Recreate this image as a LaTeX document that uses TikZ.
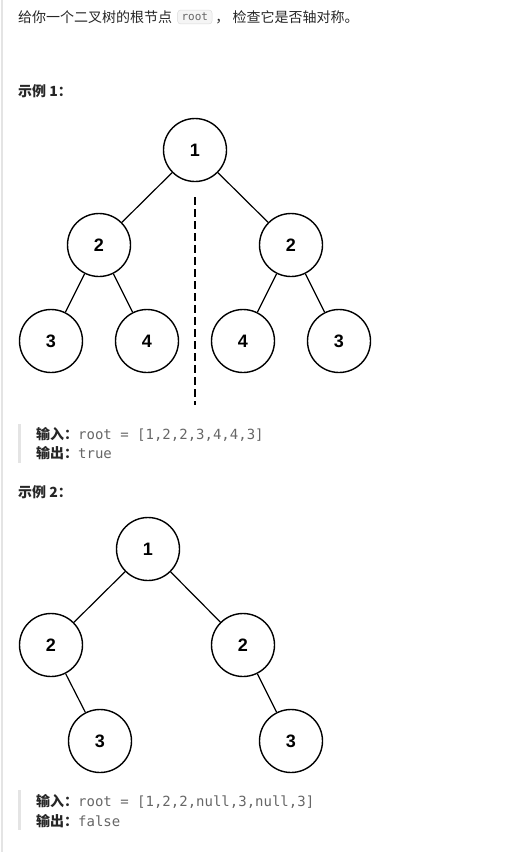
\documentclass[tikz,border=0pt]{standalone}
\usepackage{fontspec}
\setmainfont{Noto Sans CJK SC}
\newfontfamily\numfont{Liberation Sans}
\setmonofont{DejaVu Sans Mono}
\usetikzlibrary{positioning}
\definecolor{codegray}{HTML}{666666}
\definecolor{bargray}{HTML}{E4E4E4}
\definecolor{bodytext}{HTML}{262626}

\begin{document}
\begin{tikzpicture}[x=1pt,y=-1pt,line join=bevel,
  tn/.style={circle,draw,line width=1.4pt,minimum size=63pt,inner sep=0pt,
    font=\numfont\bfseries\fontsize{18}{18}\selectfont},
  edge/.style={line width=1.2pt},
  txt/.style={anchor=west,inner sep=0pt,text=bodytext,font=\fontsize{14}{16}\selectfont}]
\useasboundingbox (0,0) rectangle (517,852);
\fill[bargray] (1,0) rectangle (3,852);
%% text
\node (intro) at (18,17) [txt] {给你一个二叉树的根节点};
\node (rootcode) [right=5pt of intro,draw=gray!30,fill=gray!8,rounded corners=3pt,
  inner xsep=4pt,inner ysep=3pt,font=\ttfamily\fontsize{11}{12}\selectfont,text=codegray] {root};
\node (intro2) [right=3pt of rootcode,inner sep=0pt,text=bodytext,font=\fontsize{14}{16}\selectfont] {，\ 检查它是否轴对称。};
\node (ex_1) at (18,91) [txt,font=\bfseries\fontsize{14}{16}\selectfont] {示例 1：};
\fill[bargray] (18,424) rectangle (21,463);
\node (in_1) at (36,434) [txt] {\textbf{输入：}{\ttfamily\color{codegray}root = [1,2,2,3,4,4,3]}};
\node (out_1) at (36,453) [txt] {\textbf{输出：}{\ttfamily\color{codegray}true}};
\node (ex_2) at (18,492) [txt,font=\bfseries\fontsize{14}{16}\selectfont] {示例 2：};
\fill[bargray] (18,790) rectangle (21,830);
\node (in_2) at (36,801) [txt] {\textbf{输入：}{\ttfamily\color{codegray}root = [1,2,2,null,3,null,3]}};
\node (out_2) at (36,821) [txt] {\textbf{输出：}{\ttfamily\color{codegray}false}};
%% tree 1
\node (node_0) at (195,150) [tn] {1};
\node (node_1) at (99,245) [tn] {2};
\node (node_2) at (291,245) [tn] {2};
\node (node_3) at (51,341) [tn] {3};
\node (node_4) at (147,341) [tn] {4};
\node (node_5) at (243,341) [tn] {4};
\node (node_6) at (339,341) [tn] {3};
\draw [edge] (node_0) -- (node_1);
\draw [edge] (node_0) -- (node_2);
\draw [edge] (node_1) -- (node_3);
\draw [edge] (node_1) -- (node_4);
\draw [edge] (node_2) -- (node_5);
\draw [edge] (node_2) -- (node_6);
\coordinate (axis_top) at (195,197);
\coordinate (axis_bot) at (195,405);
\draw [line width=2.2pt,dash pattern=on 8pt off 4pt] (axis_top) -- (axis_bot);
%% tree 2
\node (node_7) at (148,549) [tn] {1};
\node (node_8) at (51,645) [tn] {2};
\node (node_9) at (243,645) [tn] {2};
\node (node_10) at (100,741) [tn] {3};
\node (node_11) at (291,741) [tn] {3};
\draw [edge] (node_7) -- (node_8);
\draw [edge] (node_7) -- (node_9);
\draw [edge] (node_8) -- (node_10);
\draw [edge] (node_9) -- (node_11);
%
\end{tikzpicture}
\end{document}
